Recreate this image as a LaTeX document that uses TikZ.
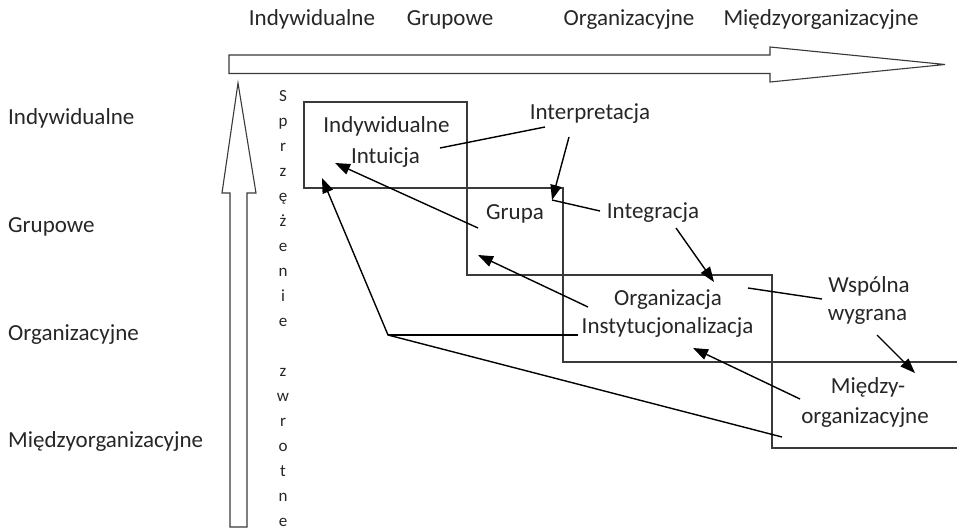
\documentclass[tikz,border=0pt]{standalone}
\usepackage{fontspec}
\setmainfont{Carlito}
\usetikzlibrary{arrows.meta}
\definecolor{txt}{HTML}{262626}
\definecolor{bx}{HTML}{3A3A3A}
\begin{document}
\begin{tikzpicture}[x=1pt,y=-1pt,
  lbl/.style={font=\fontsize{23}{27}\selectfont, text=txt, inner sep=0pt, anchor=base},
  lblw/.style={lbl, anchor=base west},
  vl/.style={font=\fontsize{17}{20}\selectfont, text=txt, inner sep=0pt, anchor=base},
  boxline/.style={draw=bx, line width=1.1pt},
  conn/.style={draw=black, line width=1.4pt},
  arr/.style={conn, -{Triangle[length=15pt,width=11pt]}},
  block/.style={draw=bx, line width=1.1pt, fill=white}]
\useasboundingbox (0,0) rectangle (957,530);

% block arrows
\path[block] (229,55) -- (770,55) -- (770,47) -- (945,64.5) -- (770,82) -- (770,73.5) -- (229,73.5) -- cycle;
\path[block] (238,83) -- (256,193) -- (247,193) -- (247,527) -- (230,527) -- (230,193) -- (222,193) -- cycle;

% top labels
\node[lbl] (tInd) at (312,25) {Indywidualne};
\node[lbl] (tGru) at (450,25) {Grupowe};
\node[lbl] (tOrg) at (629,25) {Organizacyjne};
\node[lbl] (tMie) at (821,25) {Międzyorganizacyjne};

% left labels
\node[lblw] (lInd) at (8,124) {Indywidualne};
\node[lblw] (lGru) at (8,232) {Grupowe};
\node[lblw] (lOrg) at (8,340) {Organizacyjne};
\node[lblw] (lMie) at (8,447) {Międzyorganizacyjne};

% vertical text
\foreach \ch [count=\k from 0] in {S,p,r,z,ę,ż,e,n,i,e}
  \node[vl] (va\k) at (283,{101.5+25*\k}) {\ch};
\foreach \ch [count=\k from 11] in {z,w,r,o,t,n,e}
  \node[vl] (vb\k) at (283,{101.5+25*\k}) {\ch};

% boxes
\draw[boxline] (304,102) rectangle (467,188);
\draw[boxline] (467,188) rectangle (563,275);
\draw[boxline] (563,275) rectangle (772,362);
\draw[boxline] (957,362) -- (772,362) -- (772,448) -- (957,448);

% box texts
\node[lbl] (bInd) at (386.5,132) {Indywidualne};
\node[lbl] (bInt) at (385.5,163) {Intuicja};
\node[lbl] (bGru) at (515,219) {Grupa};
\node[lbl] (pInt) at (590,119) {Interpretacja};
\node[lbl] (pIng) at (653,218) {Integracja};
\node[lbl] (bOrg) at (668,305) {Organizacja};
\node[lbl] (bIns) at (667.5,333) {Instytucjonalizacja};
\node[lbl] (pWsp) at (869,292) {Wspólna};
\node[lbl] (pWyg) at (867.5,320) {wygrana};
\node[lbl] (bMie) at (868,393) {Między-};
\node[lbl] (bMor) at (865,423) {organizacyjne};

% connector end points
\coordinate (c1a) at (440,148);
\coordinate (c1b) at (545,127);
\coordinate (c2a) at (569,137);
\coordinate (c2b) at (552,200);
\coordinate (c2c) at (600,211);
\coordinate (c3a) at (676,228);
\coordinate (c3b) at (714,282);
\coordinate (c4a) at (748,288);
\coordinate (c4b) at (822,299);
\coordinate (c5a) at (877,335);
\coordinate (c5b) at (915,373);
\coordinate (c6a) at (800,399);
\coordinate (c6b) at (693,348);
\coordinate (c7a) at (782,437);
\coordinate (vx) at (388,335);
\coordinate (c7b) at (322,178);
\coordinate (c8a) at (578,335);
\coordinate (c9a) at (478,228);
\coordinate (c9b) at (335,163);
\coordinate (c10a) at (588,307);
\coordinate (c10b) at (478,255);

% connectors
\draw[conn] (c1a) -- (c1b);
\draw[arr] (c2a) -- (c2b);
\draw[conn] (c2b) -- (c2c);
\draw[arr] (c3a) -- (c3b);
\draw[conn] (c4a) -- (c4b);
\draw[arr] (c5a) -- (c5b);
\draw[arr] (c6a) -- (c6b);
\draw[arr] (c7a) -- (vx) -- (c7b);
\draw[conn] (c8a) -- (vx);
\draw[arr] (c9a) -- (c9b);
\draw[arr] (c10a) -- (c10b);
\end{tikzpicture}
\end{document}
